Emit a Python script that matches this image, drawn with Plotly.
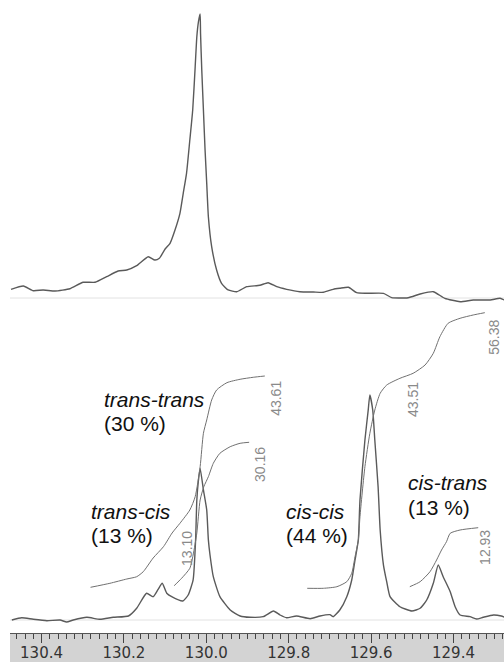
import plotly.graph_objects as go

# ---------------- data ----------------
# upper trace (chemical shift in ppm, relative intensity)
top_ppm = [130.474, 130.444, 130.420, 130.396, 130.367, 130.331, 130.299, 130.270, 130.242, 130.214,
           130.193, 130.169, 130.141, 130.125, 130.114, 130.100, 130.088, 130.076, 130.064, 130.056,
           130.048, 130.040, 130.033, 130.027, 130.023, 130.019, 130.015, 130.014, 130.011, 130.007,
           130.003, 129.999, 129.995, 129.987, 129.975, 129.963, 129.947, 129.926, 129.902, 129.870,
           129.850, 129.829, 129.805, 129.773, 129.740, 129.716, 129.692, 129.676, 129.655, 129.635,
           129.611, 129.570, 129.550, 129.510, 129.481, 129.449, 129.421, 129.384, 129.352, 129.311,
           129.287, 129.277]
top_int = [3.06, 4.23, 2.57, 2.82, 2.46, 3.27, 5.53, 5.53, 7.50, 9.51,
           9.86, 11.37, 14.54, 13.38, 13.98, 17.25, 19.26, 23.94, 29.82, 36.87,
           43.91, 55.63, 66.20, 81.44, 92.0, 97.3, 100.0, 93.2, 80.3, 66.2,
           52.1, 40.4, 28.6, 18.1, 9.86, 5.18, 2.82, 2.22, 3.98, 4.47,
           5.39, 3.98, 3.06, 2.22, 2.11, 2.01, 3.06, 3.42, 3.77, 1.87,
           1.65, 1.65, 0.11, 0.11, 1.41, 2.22, -0.11, -1.30, -0.70, -0.70,
           -0.11, -0.70]

# lower trace
bot_ppm = [130.472, 130.448, 130.420, 130.387, 130.355, 130.339, 130.323, 130.290, 130.258, 130.226,
           130.189, 130.169, 130.145, 130.129, 130.117, 130.107, 130.096, 130.084, 130.057, 130.044,
           130.032, 130.026, 130.023, 130.019, 130.015, 130.007, 129.999, 129.995, 129.991, 129.983,
           129.967, 129.942, 129.918, 129.894, 129.862, 129.837, 129.821, 129.805, 129.781, 129.748,
           129.724, 129.700, 129.692, 129.676, 129.659, 129.647, 129.639, 129.631, 129.627, 129.615,
           129.607, 129.603, 129.596, 129.591, 129.583, 129.578, 129.570, 129.562, 129.554, 129.530,
           129.501, 129.481, 129.465, 129.449, 129.437, 129.425, 129.408, 129.396, 129.384, 129.360,
           129.344, 129.328, 129.303, 129.284, 129.277]
bot_int = [0.0, 1.02, 0.31, -0.31, 0.0, -0.89, 0.0, 1.2, 0.31, 1.2,
           1.78, 5.2, 11.87, 10.36, 13.64, 16.31, 11.87, 10.36, 8.44, 11.11,
           17.78, 35.56, 53.33, 62.2, 67.4, 57.8, 48.9, 35.6, 28.9, 19.24,
           10.36, 4.44, 1.78, 1.2, 1.47, 4.0, 2.22, 1.02, 1.78, 0.58,
           1.78, 2.36, 1.47, 4.44, 10.36, 17.78, 26.67, 35.56, 53.33, 80.0,
           93.3, 100.0, 93.3, 80.0, 59.2, 40.0, 24.4, 16.9, 10.36, 5.9,
           4.0, 5.2, 8.89, 16.31, 24.44, 19.24, 12.58, 5.9, 2.22, 1.47,
           0.44, 1.2, 2.22, 1.78, 1.33]

# integral curves
intA_ppm = [130.281, 130.234, 130.193, 130.169, 130.153, 130.129, 130.104, 130.083, 130.064, 130.040,
            130.027, 130.015, 130.007, 129.999, 129.987, 129.975, 129.950, 129.918, 129.886, 129.858]
intA_val = [14.53, 16.31, 18.22, 19.24, 21.47, 27.56, 32.58, 38.67, 42.98, 48.89,
            54.8, 68.13, 82.98, 88.89, 97.78, 102.22, 105.47, 106.98, 107.87, 108.44]

intB_ppm = [130.078, 130.060, 130.040, 130.032, 130.023, 130.015, 130.006, 129.995, 129.983, 129.967,
            129.942, 129.918, 129.896]
intB_val = [15.24, 18.53, 22.98, 28.89, 38.67, 53.33, 59.24, 63.69, 69.64, 74.09,
            77.02, 78.53, 78.98]

intC_ppm = [129.755, 129.716, 129.683, 129.659, 129.647, 129.639, 129.631, 129.627, 129.615, 129.603,
            129.591, 129.578, 129.562, 129.530, 129.498, 129.469, 129.449, 129.433, 129.413, 129.384,
            129.352, 129.324]
intC_val = [14.09, 14.09, 14.8, 17.02, 20.76, 28.13, 35.56, 45.91, 68.13, 82.98,
            93.33, 100.76, 104.44, 107.42, 109.64, 113.33, 118.53, 125.91, 131.87, 134.09,
            135.56, 136.58]

intD_ppm = [129.506, 129.481, 129.457, 129.441, 129.429, 129.417, 129.408, 129.384, 129.340]
intD_val = [14.8, 17.02, 21.47, 26.67, 31.11, 34.8, 38.53, 40.0, 41.02]

# integral value labels: (text, ppm, level)
int_labels = ["43.61", "30.16", "13.10", "43.51", "56.38", "12.93"]
int_label_ppm = [129.831, 129.870, 130.047, 129.498, 129.302, 129.324]
int_label_lvl = [98.7, 69.3, 32.0, 97.8, 125.8, 32.4]

# isomer labels
iso_names = ["trans-trans", "trans-cis", "cis-cis", "cis-trans"]
iso_pct = ["(30 %)", "(13 %)", "(44 %)", "(13 %)"]
iso_ppm = [130.253, 130.284, 129.811, 129.515]
iso_lvl = [98.2, 48.4, 48.4, 60.9]

x_ticks = [130.4, 130.2, 130.0, 129.8, 129.6, 129.4]

# ---------------- figure ----------------
SPEC = dict(color="#5a5a5a", width=1.4, shape="spline", smoothing=0.5)
INTG = dict(color="#707070", width=1, shape="spline", smoothing=0.6)

fig = go.Figure()
fig.add_trace(go.Scatter(x=top_ppm, y=top_int, mode="lines", line=SPEC, xaxis="x2", yaxis="y2",
                         hoverinfo="skip"))
fig.add_trace(go.Scatter(x=bot_ppm, y=bot_int, mode="lines", line=SPEC, xaxis="x", yaxis="y",
                         hoverinfo="skip"))
for px, vy in [(intA_ppm, intA_val), (intB_ppm, intB_val), (intC_ppm, intC_val), (intD_ppm, intD_val)]:
    fig.add_trace(go.Scatter(x=px, y=vy, mode="lines", line=INTG, xaxis="x", yaxis="y",
                             hoverinfo="skip"))

xr = [130.4765, 129.2774]
annotations = []
for t, px, lv in zip(int_labels, int_label_ppm, int_label_lvl):
    annotations.append(dict(x=px, y=lv, xref="x", yref="y", text=t, showarrow=False, textangle=-90,
                            font=dict(family="Liberation Sans, Arial", size=14, color="#8a8a8a")))
for n, p, px, lv in zip(iso_names, iso_pct, iso_ppm, iso_lvl):
    annotations.append(dict(x=px, y=lv, xref="x", yref="y", text="<i>" + n + "</i>", showarrow=False,
                            xanchor="left", yanchor="middle",
                            font=dict(family="Liberation Sans, Arial", size=21, color="#111")))
    annotations.append(dict(x=px, y=lv - 10.7, xref="x", yref="y", text=p, showarrow=False,
                            xanchor="left", yanchor="middle",
                            font=dict(family="Liberation Sans, Arial", size=21, color="#111")))

shapes = [
    dict(type="rect", xref="paper", yref="paper", x0=0, x1=1, y0=-29 / 633, y1=0,
         fillcolor="#d3d3d3", line=dict(width=0), layer="below"),
    dict(type="line", xref="x", yref="y", x0=xr[0], x1=xr[1], y0=0, y1=0,
         line=dict(color="#e2e2e2", width=1), layer="below"),
    dict(type="line", xref="x2", yref="y2", x0=xr[0], x1=xr[1], y0=0, y1=0,
         line=dict(color="#e2e2e2", width=1), layer="below"),
]

fig.update_layout(
    width=504, height=662,
    margin=dict(l=10, r=0, t=0, b=29),
    paper_bgcolor="white", plot_bgcolor="white",
    showlegend=False,
    xaxis=dict(range=xr, anchor="y", showgrid=False, zeroline=False,
               showline=True, linecolor="#555", linewidth=1,
               ticks="outside", ticklen=9, tickcolor="#444", tickwidth=1.3,
               tickvals=x_ticks, ticktext=[f"{v:.1f}" for v in x_ticks],
               tickfont=dict(family="DejaVu Sans", size=15, color="#333"),
               ticklabelstandoff=-3,
               minor=dict(ticks="outside", ticklen=5, tickcolor="#444", tickwidth=1.2,
                          dtick=0.02, tick0=130.0, showgrid=False)),
    xaxis2=dict(range=xr, anchor="y2", matches="x", visible=False),
    yaxis=dict(domain=[0, 0.52], range=[-5.778, 140.51], visible=False),
    yaxis2=dict(domain=[0.52, 1], range=[-2.056, 104.93], visible=False),
    annotations=annotations,
    shapes=shapes,
)

fig.write_html("out.html", config={"displayModeBar": False},
               post_script="document.body.style.margin='0';document.body.style.overflow='hidden';")
